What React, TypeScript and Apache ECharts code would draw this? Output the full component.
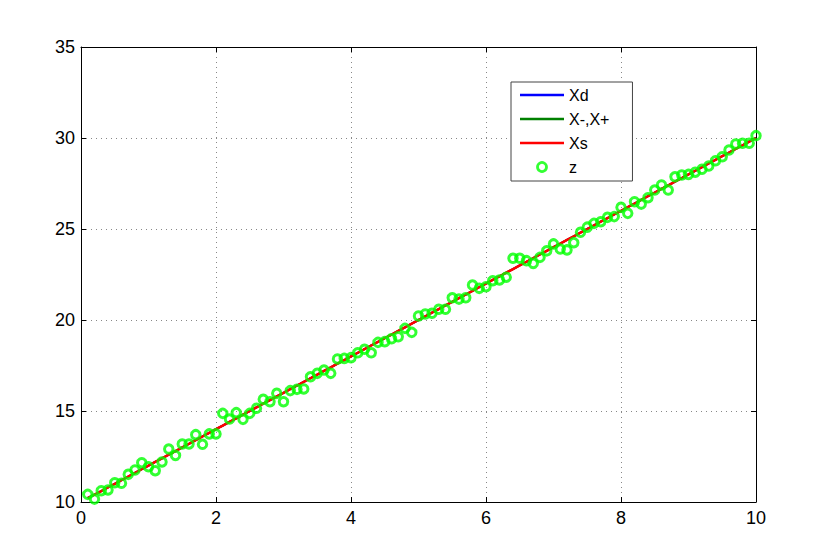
import React, { useEffect, useRef } from "react";
import * as echarts from "echarts";

const xValues = [
  0.1, 0.2, 0.3, 0.4, 0.5, 0.6, 0.7, 0.8, 0.9, 1.0,
  1.1, 1.2, 1.3, 1.4, 1.5, 1.6, 1.7, 1.8, 1.9, 2.0,
  2.1, 2.2, 2.3, 2.4, 2.5, 2.6, 2.7, 2.8, 2.9, 3.0,
  3.1, 3.2, 3.3, 3.4, 3.5, 3.6, 3.7, 3.8, 3.9, 4.0,
  4.1, 4.2, 4.3, 4.4, 4.5, 4.6, 4.7, 4.8, 4.9, 5.0,
  5.1, 5.2, 5.3, 5.4, 5.5, 5.6, 5.7, 5.8, 5.9, 6.0,
  6.1, 6.2, 6.3, 6.4, 6.5, 6.6, 6.7, 6.8, 6.9, 7.0,
  7.1, 7.2, 7.3, 7.4, 7.5, 7.6, 7.7, 7.8, 7.9, 8.0,
  8.1, 8.2, 8.3, 8.4, 8.5, 8.6, 8.7, 8.8, 8.9, 9.0,
  9.1, 9.2, 9.3, 9.4, 9.5, 9.6, 9.7, 9.8, 9.9, 10.0,
];

const zValues = [
  10.42, 10.16, 10.62, 10.66, 11.06, 11.03, 11.52, 11.76, 12.16, 11.94,
  11.72, 12.2, 12.91, 12.56, 13.19, 13.19, 13.7, 13.17, 13.74, 13.74,
  14.87, 14.56, 14.91, 14.54, 14.87, 15.15, 15.64, 15.51, 15.97, 15.51,
  16.12, 16.19, 16.21, 16.88, 17.07, 17.25, 17.07, 17.86, 17.89, 17.93,
  18.2, 18.39, 18.2, 18.77, 18.81, 18.97, 19.08, 19.54, 19.32, 20.22,
  20.33, 20.37, 20.59, 20.59, 21.22, 21.15, 21.22, 21.92, 21.74, 21.83,
  22.16, 22.2, 22.35, 23.39, 23.39, 23.26, 23.11, 23.44, 23.8, 24.18,
  23.9, 23.85, 24.25, 24.82, 25.1, 25.31, 25.4, 25.64, 25.68, 26.19,
  25.86, 26.5, 26.37, 26.72, 27.14, 27.42, 27.14, 27.87, 27.97, 28.0,
  28.12, 28.28, 28.46, 28.75, 28.97, 29.34, 29.67, 29.71, 29.71, 30.13,
];

const xsValues = [
  10.22, 10.41, 10.6, 10.8, 11.0, 11.2, 11.4, 11.6, 11.8, 12.0,
  12.2, 12.4, 12.6, 12.8, 13.0, 13.2, 13.4, 13.6, 13.8, 14.0,
  14.2, 14.4, 14.6, 14.8, 15.0, 15.2, 15.4, 15.6, 15.8, 16.0,
  16.2, 16.4, 16.6, 16.8, 17.0, 17.2, 17.4, 17.6, 17.8, 18.0,
  18.2, 18.4, 18.6, 18.8, 19.0, 19.2, 19.4, 19.6, 19.8, 20.0,
  20.2, 20.4, 20.6, 20.8, 21.0, 21.2, 21.4, 21.6, 21.8, 22.0,
  22.2, 22.4, 22.6, 22.8, 23.0, 23.2, 23.4, 23.6, 23.8, 24.0,
  24.2, 24.4, 24.6, 24.8, 25.0, 25.2, 25.4, 25.6, 25.8, 26.0,
  26.2, 26.4, 26.6, 26.8, 27.0, 27.2, 27.4, 27.6, 27.8, 28.0,
  28.2, 28.4, 28.6, 28.8, 29.0, 29.2, 29.4, 29.6, 29.8, 30.0,
];

const seriesNames = ["Xd", "X-,X+", "Xs", "z"];
const xTicks = { min: 0, max: 10, interval: 2 };
const yTicks = { min: 10, max: 35, interval: 5 };

const FONT = "'Liberation Sans', Arial, sans-serif";
const LINE_ICON = "path://M0 0H44V2.5H0Z";

export default function App() {
  const ref = useRef<HTMLDivElement>(null);

  useEffect(() => {
    if (!ref.current) return;
    const chart = echarts.init(ref.current, null, { renderer: "svg" });

    const pairs = (ys: number[]) => xValues.map((x, i) => [x, ys[i]]);

    const axisCommon = {
      axisLine: { show: true, onZero: false, lineStyle: { color: "#000", width: 1 } },
      axisTick: { show: true, inside: true, length: 5, lineStyle: { color: "#000" } },
    };

    chart.setOption({
      animation: false,
      backgroundColor: "#fff",
      grid: { left: 81, right: 74, top: 47, bottom: 52, containLabel: false },
      legend: {
        orient: "vertical",
        left: 511,
        top: 82,
        data: [
          { name: seriesNames[0], icon: LINE_ICON },
          { name: seriesNames[1], icon: LINE_ICON },
          { name: seriesNames[2], icon: LINE_ICON },
          { name: seriesNames[3], icon: "circle", itemStyle: { borderWidth: 2.8 } },
        ],
        backgroundColor: "#fff",
        borderColor: "#444",
        borderWidth: 1,
        borderRadius: 0,
        padding: [5, 23, 6, 9],
        itemWidth: 44,
        itemHeight: 9,
        itemGap: 8,
        textStyle: { fontFamily: FONT, fontSize: 16, color: "#000", lineHeight: 16 },
      },
      xAxis: [
        {
          type: "value",
          ...xTicks,
          position: "bottom",
          ...axisCommon,
          axisLabel: { fontFamily: FONT, fontSize: 18, color: "#000", margin: 7 },
          splitLine: { show: true, lineStyle: { color: "#888", type: [1, 4], width: 1 } },
        },
        {
          type: "value",
          ...xTicks,
          position: "top",
          ...axisCommon,
          axisLabel: { show: false },
          splitLine: { show: false },
        },
      ],
      yAxis: [
        {
          type: "value",
          ...yTicks,
          position: "left",
          ...axisCommon,
          axisLabel: { fontFamily: FONT, fontSize: 18, color: "#000", margin: 6 },
          splitLine: { show: true, lineStyle: { color: "#888", type: [1, 4], width: 1 } },
        },
        {
          type: "value",
          ...yTicks,
          position: "right",
          ...axisCommon,
          axisLabel: { show: false },
          splitLine: { show: false },
        },
      ],
      series: [
        {
          name: "Xd",
          type: "line",
          data: pairs(xsValues),
          symbol: "none",
          color: "#0000ff",
          lineStyle: { color: "#0000ff", width: 2 },
          z: 2,
        },
        {
          name: "X-,X+",
          type: "line",
          data: pairs(xsValues),
          symbol: "none",
          color: "#008000",
          lineStyle: { color: "#008000", width: 2 },
          z: 3,
        },
        {
          name: "Xs",
          type: "line",
          data: pairs(xsValues),
          symbol: "none",
          color: "#ff0000",
          lineStyle: { color: "#ff0000", width: 2.5 },
          z: 4,
        },
        {
          name: "z",
          type: "scatter",
          data: pairs(zValues),
          symbol: "circle",
          symbolSize: 8.5,
          color: "#00ff00",
          itemStyle: { color: "rgba(0,0,0,0)", borderColor: "#00ff00", borderWidth: 3 },
          z: 5,
        },
      ],
    });

    return () => chart.dispose();
  }, []);

  return (
    <div
      ref={ref}
      style={{ position: "fixed", left: 0, top: 0, width: 830, height: 554, background: "#fff" }}
    />
  );
}
